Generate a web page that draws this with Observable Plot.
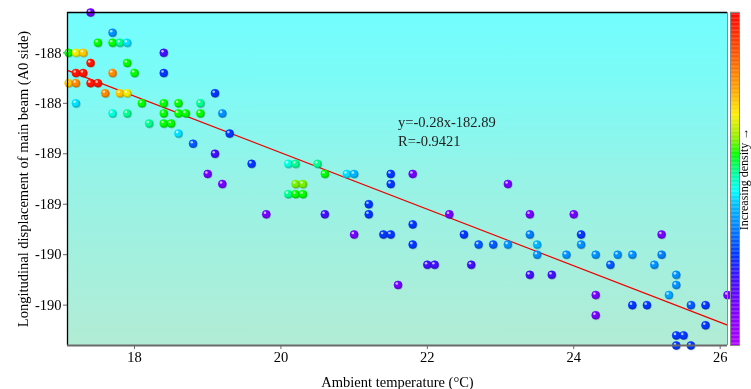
<!DOCTYPE html>
<html><head><meta charset="utf-8">
<script src="https://cdn.jsdelivr.net/npm/d3@7"></script>
<script src="https://cdn.jsdelivr.net/npm/@observablehq/plot@0.6"></script>
<style>
body{margin:0;background:#fff;}
#wrap{position:relative;width:751px;height:389px;overflow:hidden;}
#wrap svg{position:absolute;top:0;overflow:visible;}
</style></head><body><div id="wrap"></div>
<script>
// ambient temperature (°C)
const temp = [17.4,17.7,17.5,17.7,17.8,17.9,17.1,17.2,17.3,18.4,
  17.4,17.9,17.2,17.3,17.7,18.0,18.4,17.1,17.2,17.4,
  17.5,17.6,17.8,17.9,19.1,17.2,18.1,18.4,18.6,18.9,
  17.7,17.9,18.4,18.6,18.7,18.9,19.2,18.2,18.4,18.5,
  18.6,19.3,18.8,19.1,19.6,20.1,20.2,20.5,19.0,20.6,
  20.9,21.0,21.5,21.8,19.2,20.2,20.3,21.5,23.1,20.1,
  20.2,20.3,21.2,19.8,20.6,21.2,22.3,23.4,24.0,21.8,
  21.0,21.4,21.5,22.5,23.4,24.1,25.2,21.8,22.7,22.9,
  23.1,23.5,24.1,23.5,23.9,24.3,24.6,24.8,25.2,22.0,
  22.1,22.6,24.5,25.1,23.4,23.7,25.4,21.6,25.4,24.3,
  25.3,26.1,24.8,25.0,25.6,25.8,24.3,25.8,25.4,25.5,
  25.4,25.6];
// longitudinal displacement of main beam (A0 side)
const disp = [-187.1,-187.3,-187.4,-187.4,-187.4,-187.4,-187.5,-187.5,-187.5,-187.5,
  -187.6,-187.6,-187.7,-187.7,-187.7,-187.7,-187.7,-187.8,-187.8,-187.8,
  -187.8,-187.9,-187.9,-187.9,-187.9,-188.0,-188.0,-188.0,-188.0,-188.0,
  -188.1,-188.1,-188.1,-188.1,-188.1,-188.1,-188.1,-188.2,-188.2,-188.2,
  -188.3,-188.3,-188.4,-188.5,-188.6,-188.6,-188.6,-188.6,-188.7,-188.7,
  -188.7,-188.7,-188.7,-188.7,-188.8,-188.8,-188.8,-188.8,-188.8,-188.9,
  -188.9,-188.9,-189.0,-189.1,-189.1,-189.1,-189.1,-189.1,-189.1,-189.2,
  -189.3,-189.3,-189.3,-189.3,-189.3,-189.3,-189.3,-189.4,-189.4,-189.4,
  -189.4,-189.4,-189.4,-189.5,-189.5,-189.5,-189.5,-189.5,-189.5,-189.6,
  -189.6,-189.6,-189.6,-189.6,-189.7,-189.7,-189.7,-189.8,-189.8,-189.9,
  -189.9,-189.9,-190.0,-190.0,-190.0,-190.0,-190.1,-190.2,-190.3,-190.3,
  -190.4,-190.4];
const dens = [0.12,0.37,0.57,0.57,0.52,0.44,0.57,0.68,0.73,0.2,
  0.97,0.57,0.97,0.97,0.8,0.57,0.27,0.73,0.8,0.97,
  0.97,0.8,0.73,0.68,0.27,0.44,0.57,0.57,0.57,0.52,
  0.48,0.52,0.57,0.57,0.57,0.57,0.37,0.52,0.57,0.57,
  0.44,0.27,0.31,0.2,0.27,0.48,0.52,0.52,0.12,0.57,
  0.44,0.41,0.27,0.12,0.12,0.61,0.61,0.27,0.12,0.52,
  0.57,0.57,0.27,0.12,0.2,0.27,0.12,0.12,0.12,0.27,
  0.12,0.27,0.27,0.27,0.35,0.27,0.12,0.27,0.31,0.31,
  0.37,0.41,0.37,0.37,0.37,0.37,0.37,0.37,0.35,0.2,
  0.2,0.2,0.31,0.37,0.2,0.2,0.37,0.12,0.37,0.12,
  0.39,0.12,0.27,0.27,0.31,0.27,0.12,0.27,0.27,0.27,
  0.27,0.27];

const xTicks = [18, 20, 22, 24, 26];
const yTicks = [-187.5, -188, -188.5, -189, -189.5, -190];
const densStops  = [0, 0.1, 0.2, 0.27, 0.35, 0.42, 0.46, 0.52, 0.57, 0.62, 0.69, 0.77, 0.88, 1];
const densColors = ["#b000ff","#8000ff","#4010ff","#0038ff","#0080ff","#00c0ff","#00ffff","#00ff90","#00ff00","#90f000","#ffee00","#ffa000","#ff5000","#ff0000"];
const slope = -0.28, intercept = -182.89;
const xDomain = [17.085, 26.1], yDomain = [-190.4, -187.1];
const annotations = [
  {temp: 21.6, disp: -188.19, label: "y=-0.28x-182.89"},
  {temp: 21.6, disp: -188.38, label: "R=-0.9421"}
];

const points = temp.map((t, i) => ({temp: t, disp: disp[i], dens: dens[i]}));
const fitLine = xDomain.map(x => ({temp: x, disp: slope * x + intercept}));
const roundLabel = v => String(Math.sign(v) * Math.round(Math.abs(v)));
const colorScale = {type: "linear", domain: densStops, range: densColors, interpolate: "rgb"};
const font = "'Liberation Serif','Times New Roman',serif";

const gradient = () => {
  const defs = d3.create("svg:defs");
  const lg = defs.append("linearGradient").attr("id", "bg").attr("x1", 0).attr("y1", 0).attr("x2", 0).attr("y2", 1);
  [["0%", "#72fefe"], ["20%", "#7cfbf7"], ["50%", "#96f3e6"], ["100%", "#b2ecd5"]]
    .forEach(([o, c]) => lg.append("stop").attr("offset", o).attr("stop-color", c));
  return defs.node();
};

const main = Plot.plot({
  width: 751, height: 389,
  marginLeft: 67, marginRight: 24, marginTop: 12, marginBottom: 44,
  style: {fontFamily: font, fontSize: "14.5px", color: "#000", background: "transparent"},
  x: {domain: xDomain},
  y: {domain: yDomain},
  color: colorScale,
  marks: [
    gradient,
    Plot.frame({fill: "url(#bg)", stroke: null}),
    Plot.axisX({ticks: xTicks, tickSize: 4, tickPadding: 2, stroke: "#666", fill: "#000",
      label: "Ambient temperature (°C)", labelAnchor: "center", labelArrow: "none", labelOffset: 41}),
    Plot.axisY({ticks: yTicks, tickSize: 4, tickPadding: 2, stroke: "#666", fill: "#000", tickFormat: roundLabel,
      label: "Longitudinal displacement of main beam (A0 side)", labelAnchor: "center", labelArrow: "none", labelOffset: 50}),
    Plot.line(fitLine, {x: "temp", y: "disp", stroke: "#ee0000", strokeWidth: 1.2}),
    Plot.dot(points, {x: "temp", y: "disp", fill: "dens", r: 4, stroke: d => d.dens, strokeWidth: 0.6}),
    Plot.dot(points, {x: "temp", y: "disp", fill: "#000", fillOpacity: 0.18, r: 4, dx: 0.8, dy: 0.9, mixBlendMode: "multiply"}),
    Plot.dot(points, {x: "temp", y: "disp", fill: "dens", r: 3.2, dx: -0.4, dy: -0.4}),
    Plot.dot(points, {x: "temp", y: "disp", fill: "white", fillOpacity: 0.7, r: 1.3, dx: -1.3, dy: -1.5}),
    Plot.text(annotations, {x: "temp", y: "disp", text: "label", textAnchor: "start", fill: "#222", fontSize: 14.5}),
    Plot.ruleY([yDomain[1]], {stroke: "#000", strokeWidth: 1.3}),
    Plot.ruleX([xDomain[0]], {stroke: "#000", strokeWidth: 1.3}),
    Plot.ruleY([yDomain[0]], {stroke: "#6a6a6a", strokeWidth: 2}),
    Plot.ruleX([xDomain[1]], {stroke: "#8a8a8a", strokeWidth: 1})
  ]
});
main.style.left = "0px";

const cbSteps = d3.range(0, 1, 0.004);
const bar = Plot.plot({
  width: 23, height: 389,
  marginLeft: 2, marginRight: 12, marginTop: 12, marginBottom: 44,
  style: {fontFamily: font, fontSize: "12px", color: "#000", background: "transparent"},
  x: {domain: [0, 1], axis: null},
  y: {domain: [0, 1], axis: null},
  color: colorScale,
  marks: [
    Plot.rect(cbSteps, {x1: 0, x2: 1, y1: d => d, y2: d => d + 0.0045, fill: d => d}),
    Plot.frame({stroke: "#888"}),
    Plot.text(["Increasing density →"], {frameAnchor: "right", textAnchor: "middle", rotate: -90, dx: 5, fill: "#000", fontSize: 12})
  ]
});
bar.style.left = "728px";

const wrap = document.getElementById("wrap");
wrap.appendChild(main);
wrap.appendChild(bar);
</script></body></html>
